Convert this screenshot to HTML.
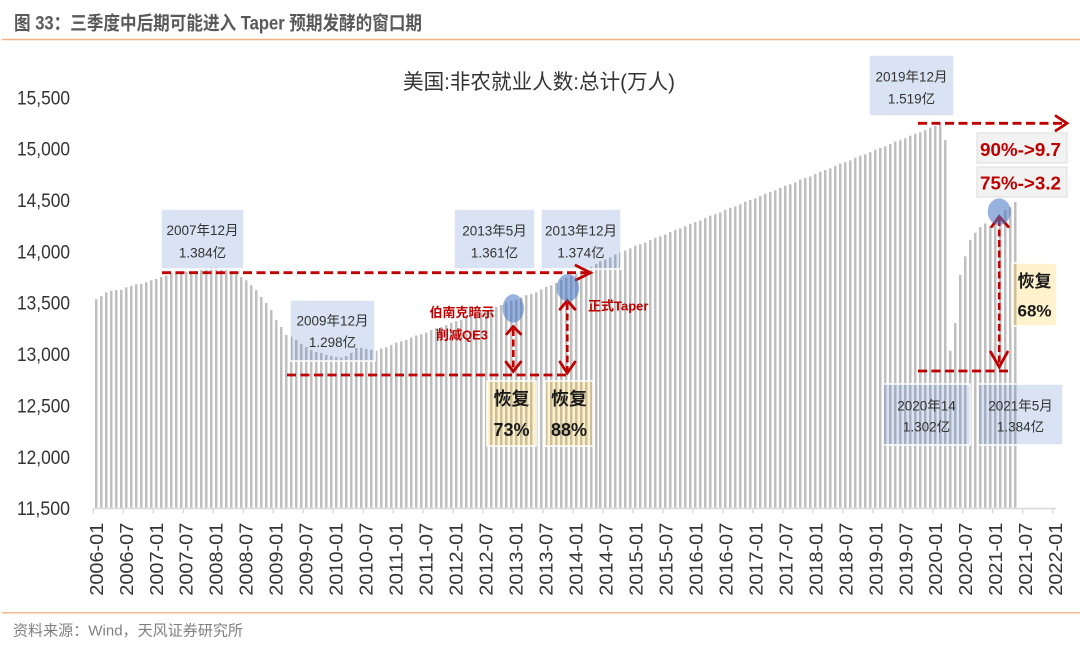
<!DOCTYPE html>
<html><head><meta charset="utf-8">
<style>
html,body{margin:0;padding:0;background:#fff;}
body{width:1080px;height:652px;overflow:hidden;}
svg{display:block;font-family:"Liberation Sans","Noto Sans CJK SC",sans-serif;}
</style></head><body>
<svg id="s" width="1080" height="652" viewBox="0 0 1080 652" xmlns="http://www.w3.org/2000/svg">
<rect x="0" y="0" width="1080" height="652" fill="#fff"/>
<!-- header -->
<text x="14" y="29.5" font-size="19" font-weight="bold" fill="#595959" textLength="408" lengthAdjust="spacingAndGlyphs">图 33：三季度中后期可能进入 Taper 预期发酵的窗口期</text>
<line x1="2" y1="39.5" x2="1080" y2="39.5" stroke="#f4b183" stroke-width="1.4"/>
<!-- footer -->
<line x1="2" y1="612.8" x2="1080" y2="612.8" stroke="#f4b183" stroke-width="1.4"/>
<text x="13" y="635.7" font-size="15" fill="#7f7f7f" textLength="230" lengthAdjust="spacingAndGlyphs">资料来源：Wind，天风证券研究所</text>

<!-- chart title -->
<text x="539" y="89.2" font-size="21" fill="#333" text-anchor="middle" textLength="272" lengthAdjust="spacingAndGlyphs">美国:非农就业人数:总计(万人)</text>

<!-- y labels -->
<g font-size="19" fill="#333" text-anchor="end">
<text x="70" y="104.3" textLength="53" lengthAdjust="spacingAndGlyphs">15,500</text>
<text x="70" y="155.65" textLength="53" lengthAdjust="spacingAndGlyphs">15,000</text>
<text x="70" y="207" textLength="53" lengthAdjust="spacingAndGlyphs">14,500</text>
<text x="70" y="258.35" textLength="53" lengthAdjust="spacingAndGlyphs">14,000</text>
<text x="70" y="309.7" textLength="53" lengthAdjust="spacingAndGlyphs">13,500</text>
<text x="70" y="361.05" textLength="53" lengthAdjust="spacingAndGlyphs">13,000</text>
<text x="70" y="412.4" textLength="53" lengthAdjust="spacingAndGlyphs">12,500</text>
<text x="70" y="463.75" textLength="53" lengthAdjust="spacingAndGlyphs">12,000</text>
<text x="70" y="515.1" textLength="53" lengthAdjust="spacingAndGlyphs">11,500</text>
</g>

<g id="bars" fill="#bfbfbf"></g>

<line x1="93" y1="508.5" x2="1056" y2="508.5" stroke="#d9d9d9" stroke-width="1.5"/>
<g id="ticks" stroke="#d9d9d9" stroke-width="1.3"></g>
<g id="xlab" font-size="18" fill="#333"></g>

<!-- blue annotation boxes -->
<g fill="#4472c4" fill-opacity="0.2" stroke="#fff" stroke-width="1.5">
<rect x="161" y="209" width="83" height="60"/>
<rect x="290" y="300" width="85" height="61"/>
<rect x="454" y="209" width="81" height="60"/>
<rect x="541" y="209" width="80" height="60"/>
<rect x="869" y="55" width="85" height="61"/>
<rect x="883" y="384" width="87" height="61"/>
<rect x="978" y="384" width="85" height="61"/>
</g>
<g font-size="13.5" fill="#333" text-anchor="middle">
<text x="202.5" y="235">2007年12月</text><text x="202.5" y="257.5">1.384亿</text>
<text x="332.5" y="325.3">2009年12月</text><text x="332.5" y="347">1.298亿</text>
<text x="494.5" y="235.5">2013年5月</text><text x="494.5" y="257.5">1.361亿</text>
<text x="581" y="235.5">2013年12月</text><text x="581" y="257.5">1.374亿</text>
<text x="911.5" y="81.3">2019年12月</text><text x="911.5" y="103.3">1.519亿</text>
<text x="926.5" y="410.3">2020年14</text><text x="926.5" y="431.5">1.302亿</text>
<text x="1020.5" y="410.3">2021年5月</text><text x="1020.5" y="431.5">1.384亿</text>
</g>

<!-- beige boxes -->
<g fill="#ffc000" fill-opacity="0.2" stroke="#fff" stroke-width="1.5">
<rect x="487" y="381" width="49" height="65"/>
<rect x="545" y="381" width="48" height="65"/>
<rect x="1012" y="263" width="45" height="63"/>
</g>
<g font-weight="bold" fill="#1a1a1a" text-anchor="middle">
<text x="511.5" y="405" font-size="18">恢复</text><text x="511.5" y="436" font-size="18">73%</text>
<text x="569" y="405" font-size="18">恢复</text><text x="569" y="436" font-size="18">88%</text>
<text x="1034.5" y="287" font-size="17">恢复</text><text x="1034.5" y="316.7" font-size="17">68%</text>
</g>

<!-- red dashed lines -->
<g stroke="#c00000" stroke-width="2.8" fill="none" stroke-dasharray="9,4.5">
<line x1="162" y1="272.7" x2="589" y2="272.7"/>
<line x1="287" y1="375" x2="568" y2="375"/>
<line x1="918" y1="123.3" x2="1066" y2="123.3"/>
<line x1="918" y1="371" x2="1012" y2="371"/>
</g>
<g stroke="#c00000" stroke-width="2.6" fill="none" stroke-dasharray="7,3.5">
<line x1="513.3" y1="329" x2="513.3" y2="369"/>
<line x1="567.3" y1="303" x2="567.3" y2="371"/>
<line x1="999.2" y1="219" x2="999.2" y2="365"/>
</g>
<g stroke="#c00000" stroke-width="2.8" fill="none" stroke-linecap="round" stroke-linejoin="miter">
<polyline points="576,265.5 590.5,272.7 576,280"/>
<polyline points="1056,116 1067,123.3 1056,130.6"/>
<polyline points="506.7,334 513.3,326.5 520.7,334"/>
<polyline points="506,362 513.3,371.5 520.7,362"/>
<polyline points="560,309.3 567.3,300.5 575,309.3"/>
<polyline points="560,362 567.3,373 575,362"/>
<polyline points="991.7,226.7 999.2,216.5 1008.3,226.7"/>
<polyline points="990.7,352 999.2,367 1007.5,352"/>
</g>

<!-- ellipses -->
<g fill="#4472c4" fill-opacity="0.55">
<ellipse cx="513.3" cy="308.5" rx="10.7" ry="14.2"/>
<ellipse cx="568" cy="287.8" rx="11.3" ry="13.8"/>
<ellipse cx="999.2" cy="211.7" rx="11.5" ry="13.3"/>
</g>

<!-- red texts -->
<g font-weight="bold" fill="#c00000" font-size="13">
<text x="462" y="317" text-anchor="middle">伯南克暗示</text>
<text x="462" y="339.3" text-anchor="middle">削减QE3</text>
<text x="588" y="310.5">正式Taper</text>
</g>

<!-- gray boxes -->
<rect x="977" y="133" width="90" height="30" fill="#f2f2f2" stroke="#dcdcdc" stroke-width="1"/>
<rect x="977" y="167" width="90" height="30" fill="#f2f2f2" stroke="#dcdcdc" stroke-width="1"/>
<g font-weight="bold" fill="#c00000" font-size="18.5">
<text x="980" y="156" textLength="81" lengthAdjust="spacingAndGlyphs">90%-&gt;9.7</text>
<text x="980" y="189.3" textLength="81" lengthAdjust="spacingAndGlyphs">75%-&gt;3.2</text>
</g>
</svg>
<script>
(function(){
var NS="http://www.w3.org/2000/svg";
var v=[13532,13562,13599,13615,13622,13624,13648,13661,13677,13680,13697,13716,
13729,13749,13762,13785,13792,13797,13800,13803,13808,13815,13826,13841,
13840,13832,13818,13800,13775,13749,13717,13669,13620,13553,13495,13426,
13329,13261,13183,13167,13135,13096,13067,13038,13018,13009,12989,12979,
12970,12963,12979,13009,13057,13057,13048,13038,13031];
var i;
for(i=57;i<=88;i++) v[i]=13050+(13603-13050)*(i-57)/31+4*Math.sin(i*1.7);
for(i=89;i<=106;i++) v[i]=13603+(14010-13603)*(i-88)/18+4*Math.sin(i*1.7);
for(i=107;i<=169;i++) v[i]=14010+(15240-14010)*(i-106)/63+4*Math.sin(i*1.7);
v.push(15082,13030,13300,13770,13950,14110,14180,14235,14270,14245,14290,14330,14400,14430,14480);
var g=document.getElementById('bars');
for(i=0;i<v.length;i++){
  var y=507.7-(v[i]-11500)*51.3/500;
  var r=document.createElementNS(NS,'rect');
  r.setAttribute('x',Math.round(94.8+4.997*i));
  r.setAttribute('y',y.toFixed(2));
  r.setAttribute('width','2.5');
  r.setAttribute('height',(507.7-y).toFixed(2));
  g.appendChild(r);
}
var t=document.getElementById('ticks');
var xl=document.getElementById('xlab');
for(var k=0;k<=32;k++){
  var x=93.3+29.98*k;
  var l=document.createElementNS(NS,'line');
  l.setAttribute('x1',x.toFixed(2));l.setAttribute('x2',x.toFixed(2));
  l.setAttribute('y1','508.5');l.setAttribute('y2','513.5');
  t.appendChild(l);
  var tx=document.createElementNS(NS,'text');
  tx.setAttribute('transform','translate('+(x+9.5).toFixed(2)+',522.7) rotate(-90)');
  tx.setAttribute('text-anchor','end');
  tx.setAttribute('textLength','73');
  tx.setAttribute('lengthAdjust','spacingAndGlyphs');
  tx.textContent=(2006+Math.floor(k/2))+'-'+(k%2?'07':'01');
  xl.appendChild(tx);
}
})();
</script>
</body></html>
